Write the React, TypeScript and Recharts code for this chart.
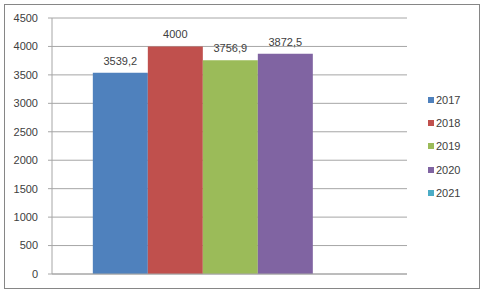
import { BarChart, Bar, XAxis, YAxis, CartesianGrid, Legend, LabelList } from 'recharts';

const categories = [''];
const years = ['2017', '2018', '2019', '2020', '2021'];
const values: (number | null)[] = [3539.2, 4000, 3756.9, 3872.5, null];
const colors = ['#4F81BD', '#C0504D', '#9BBB59', '#8064A2', '#4BACC6'];
const yTicks = [0, 500, 1000, 1500, 2000, 2500, 3000, 3500, 4000, 4500];

const data = categories.map((name) => {
  const row: Record<string, string | number | null> = { name };
  years.forEach((y, i) => {
    row[y] = values[i];
  });
  return row;
});

const font = '"Liberation Sans", Arial, sans-serif';

const formatValue = (v: unknown) =>
  v === null || v === undefined ? '' : String(v).replace('.', ',');

function LegendBox({ payload }: any) {
  return (
    <div style={{ fontFamily: font, fontSize: 11, color: '#404040' }}>
      {(payload || []).map((item: any) => (
        <div key={item.value} style={{ height: 23.4, display: 'flex', alignItems: 'center' }}>
          <span
            style={{ width: 6, height: 6, background: item.color, display: 'inline-block', marginRight: 2 }}
          />
          <span>{item.value}</span>
        </div>
      ))}
    </div>
  );
}

export default function App() {
  return (
    <div style={{ position: 'absolute', left: 0, top: 0, width: 483, height: 293, background: '#fff' }}>
      <div
        style={{
          position: 'absolute',
          left: 4,
          top: 4,
          width: 474,
          height: 283,
          border: '1px solid #868686',
        }}
      />
      <BarChart
        width={483}
        height={293}
        data={data}
        margin={{ top: 18, right: 26, bottom: 0, left: 12 }}
        barCategoryGap="11.5%"
        barGap={0}
      >
        <CartesianGrid vertical={false} stroke="#A6A6A6" />
        <XAxis dataKey="name" tick={false} tickLine={false} axisLine={{ stroke: '#A6A6A6' }} height={19} />
        <YAxis
          width={40}
          domain={[0, 4500]}
          ticks={yTicks}
          interval={0}
          tickSize={4}
          tickMargin={10}
          axisLine={{ stroke: '#A6A6A6' }}
          tickLine={{ stroke: '#A6A6A6' }}
          tick={{ fill: '#404040', fontSize: 11, fontFamily: font }}
        />
        <Legend
          layout="vertical"
          align="right"
          verticalAlign="top"
          content={<LegendBox />}
          wrapperStyle={{ left: 428, top: 88, width: 50 }}
        />
        {years.map((y, i) => (
          <Bar key={y} dataKey={y} fill={colors[i]} isAnimationActive={false}>
            <LabelList
              dataKey={y}
              position="top"
              offset={8}
              formatter={formatValue}
              style={{ fill: '#404040', fontSize: 11, fontFamily: font }}
            />
          </Bar>
        ))}
      </BarChart>
    </div>
  );
}
